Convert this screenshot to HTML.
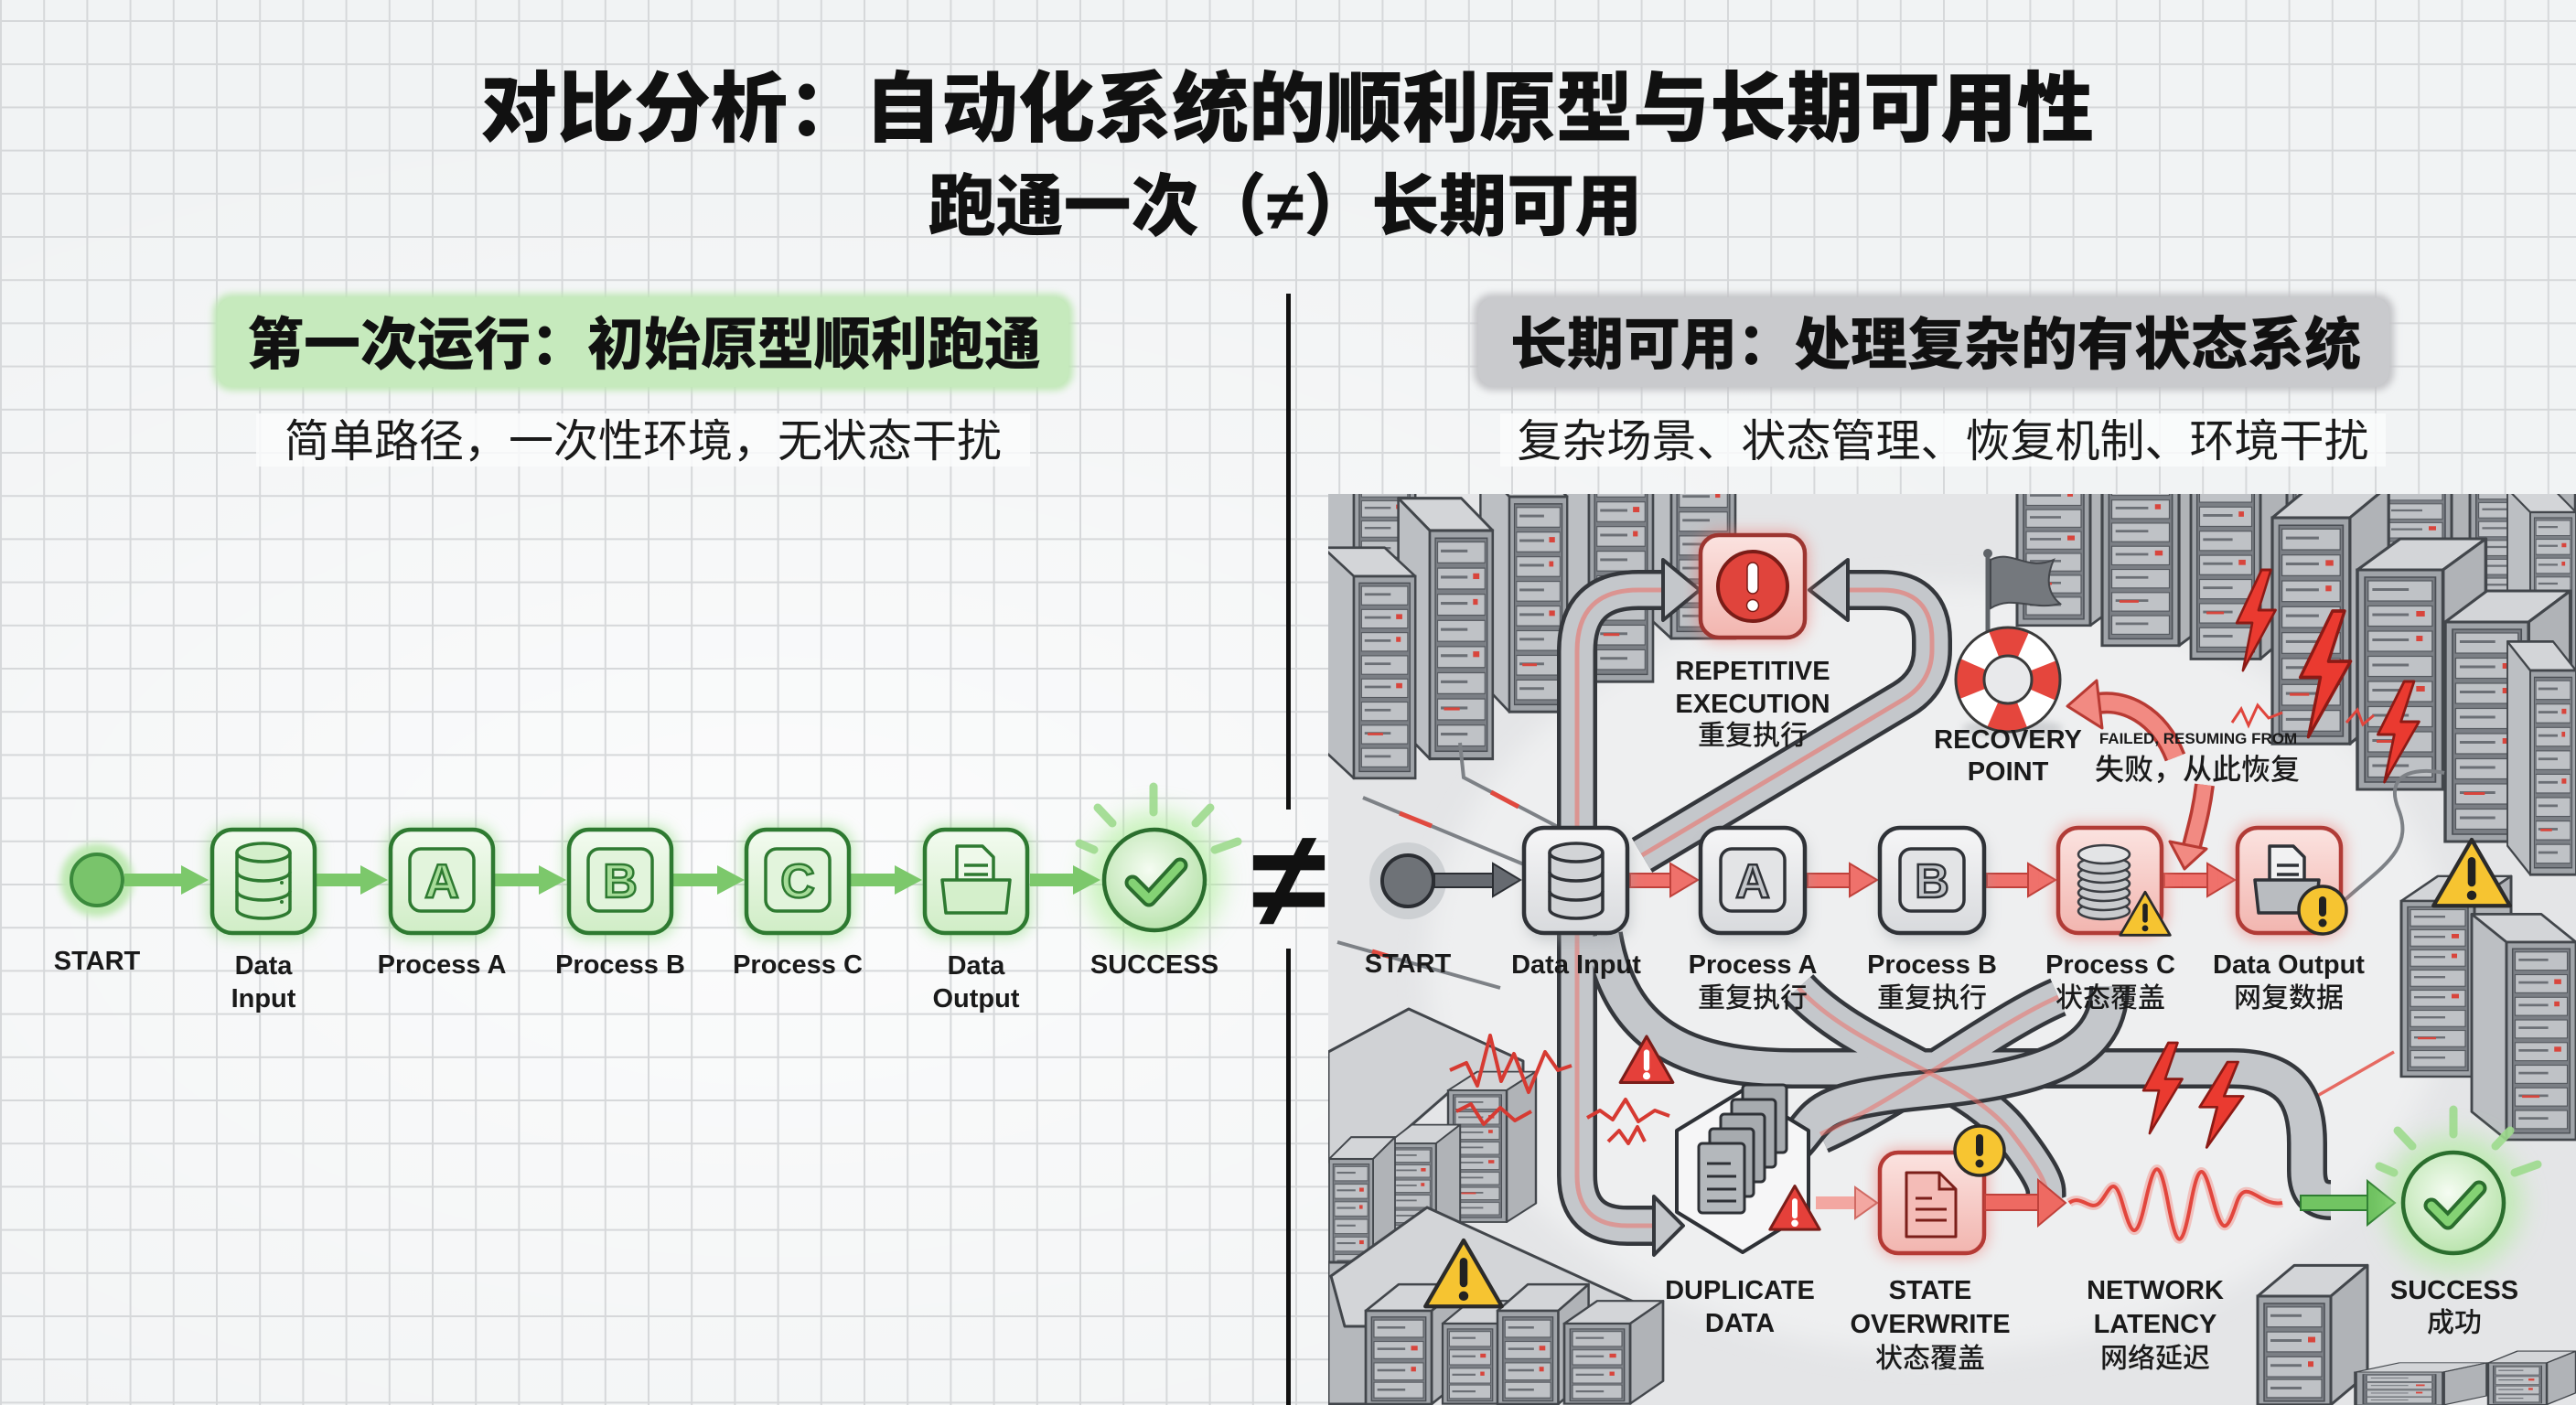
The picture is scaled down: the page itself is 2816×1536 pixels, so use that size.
<!DOCTYPE html>
<html><head><meta charset="utf-8"><title>对比分析：自动化系统的顺利原型与长期可用性</title>
<style>
html,body{margin:0;padding:0;width:2816px;height:1536px;overflow:hidden;background:#f2f4f5}
svg{display:block}
text{font-family:"Liberation Sans","Noto Sans CJK SC",sans-serif}
.cj{font-family:"Liberation Sans","Noto Sans CJK SC","WenQuanYi Zen Hei",sans-serif}
</style></head><body>
<svg width="2816" height="1536" viewBox="0 0 2816 1536" xmlns="http://www.w3.org/2000/svg">
<defs>
 <pattern id="grid" width="47.2" height="47.2" patternUnits="userSpaceOnUse" x="0" y="22">
  <path d="M0 1 H47.2 M1 0 V47.2" stroke="#d6d8da" stroke-width="2" fill="none"/>
 </pattern>
 <radialGradient id="bgGlow" cx="0.3" cy="0.62" r="0.55">
  <stop offset="0" stop-color="#ffffff" stop-opacity="0.75"/>
  <stop offset="1" stop-color="#ffffff" stop-opacity="0"/>
 </radialGradient>
 <filter id="b4" x="-50%" y="-50%" width="200%" height="200%"><feGaussianBlur stdDeviation="4"/></filter>
 <filter id="b8" x="-50%" y="-50%" width="200%" height="200%"><feGaussianBlur stdDeviation="8"/></filter>
 <filter id="b14" x="-50%" y="-50%" width="200%" height="200%"><feGaussianBlur stdDeviation="14"/></filter>
 <clipPath id="panel"><rect x="1452" y="540" width="1364" height="996"/></clipPath>
 <linearGradient id="gG" x1="0" y1="0" x2="0" y2="1"><stop offset="0" stop-color="#f3fbf0"/><stop offset="1" stop-color="#d0edc6"/></linearGradient>
 <linearGradient id="gW" x1="0" y1="0" x2="0" y2="1"><stop offset="0" stop-color="#f6f6f7"/><stop offset="1" stop-color="#d8dadd"/></linearGradient>
 <linearGradient id="gR" x1="0" y1="0" x2="0" y2="1"><stop offset="0" stop-color="#fbe3e0"/><stop offset="1" stop-color="#f2b5af"/></linearGradient>
 <radialGradient id="gS" cx="0.45" cy="0.4" r="0.65"><stop offset="0" stop-color="#f5fcf2"/><stop offset="1" stop-color="#b5e2a8"/></radialGradient>

 <g id="slots">
  <rect x="7" y="8" width="66" height="224" fill="#7b7f85" stroke="#4b4f55" stroke-width="1.5"/>
  <g fill="#bfc2c6" stroke="#55595f" stroke-width="1.2">
   <rect x="10" y="12" width="60" height="22"/><rect x="10" y="39.5" width="60" height="22"/>
   <rect x="10" y="67" width="60" height="22"/><rect x="10" y="94.5" width="60" height="22"/>
   <rect x="10" y="122" width="60" height="22"/><rect x="10" y="149.5" width="60" height="22"/>
   <rect x="10" y="177" width="60" height="22"/><rect x="10" y="204.5" width="60" height="22"/>
  </g>
  <g fill="#6b6f75">
   <rect x="14" y="20" width="34" height="3"/><rect x="14" y="47.5" width="34" height="3"/>
   <rect x="14" y="75" width="34" height="3"/><rect x="14" y="102.5" width="34" height="3"/>
   <rect x="14" y="130" width="34" height="3"/><rect x="14" y="157.5" width="34" height="3"/>
   <rect x="14" y="185" width="34" height="3"/><rect x="14" y="212.5" width="34" height="3"/>
  </g>
  <g fill="#d8453c">
   <rect x="55" y="45" width="8" height="6"/><rect x="55" y="127" width="8" height="6"/><rect x="18" y="186" width="20" height="3"/><rect x="55" y="72" width="6" height="6"/>
  </g>
 </g>
 <g id="slotsS">
  <rect x="7" y="8" width="66" height="108" fill="#7b7f85" stroke="#4b4f55" stroke-width="1.5"/>
  <g fill="#bfc2c6" stroke="#55595f" stroke-width="1.2">
   <rect x="10" y="12" width="60" height="22"/><rect x="10" y="39.5" width="60" height="22"/>
   <rect x="10" y="67" width="60" height="22"/><rect x="10" y="92" width="60" height="20"/>
  </g>
  <g fill="#6b6f75">
   <rect x="14" y="20" width="34" height="3"/><rect x="14" y="47.5" width="34" height="3"/>
   <rect x="14" y="75" width="34" height="3"/><rect x="14" y="100" width="34" height="3"/>
  </g>
  <g fill="#d8453c"><rect x="55" y="45" width="8" height="6"/><rect x="55" y="72" width="6" height="6"/></g>
 </g>
 <g id="rkR">
  <polygon points="0,0 40,-34 120,-34 80,0" fill="#d3d5d8" stroke="#42464b" stroke-width="3" stroke-linejoin="round"/>
  <polygon points="80,0 120,-34 120,206 80,240" fill="#b0b3b7" stroke="#42464b" stroke-width="3" stroke-linejoin="round"/>
  <rect width="80" height="240" fill="#a0a4a9" stroke="#42464b" stroke-width="3"/>
  <use href="#slots"/>
 </g>
 <g id="rkRs">
  <polygon points="0,0 40,-34 120,-34 80,0" fill="#d3d5d8" stroke="#42464b" stroke-width="3" stroke-linejoin="round"/>
  <polygon points="80,0 120,-34 120,86 80,120" fill="#b0b3b7" stroke="#42464b" stroke-width="3" stroke-linejoin="round"/>
  <rect width="80" height="120" fill="#a0a4a9" stroke="#42464b" stroke-width="3"/>
  <use href="#slotsS"/>
 </g>
 <g id="rkL">
  <polygon points="0,0 -40,-34 40,-34 80,0" fill="#d3d5d8" stroke="#42464b" stroke-width="3" stroke-linejoin="round"/>
  <polygon points="0,0 -40,-34 -40,206 0,240" fill="#bcbfc3" stroke="#42464b" stroke-width="3" stroke-linejoin="round"/>
  <rect width="80" height="240" fill="#a0a4a9" stroke="#42464b" stroke-width="3"/>
  <use href="#slots"/>
 </g>
 <polygon id="bolt" points="38,0 6,58 26,58 14,110 56,44 34,44 50,0" fill="#ea3a30" stroke="#8c1a15" stroke-width="3" stroke-linejoin="round"/>
 <g id="ytri">
  <polygon points="0,-40 44,36 -44,36" fill="#f6c431" stroke="#2b2b2b" stroke-width="4.5" stroke-linejoin="round"/>
  <rect x="-4.5" y="-20" width="9" height="34" rx="4.5" fill="#222"/>
  <circle cx="0" cy="24" r="5.5" fill="#222"/>
 </g>
 <g id="rtri">
  <polygon points="0,-30 32,26 -32,26" fill="#e5403a" stroke="#7a1d19" stroke-width="3.5" stroke-linejoin="round"/>
  <rect x="-3.5" y="-14" width="7" height="26" rx="3.5" fill="#fff"/>
  <circle cx="0" cy="18" r="4.5" fill="#fff"/>
 </g>
 <path id="rT1" d="M1724 905 L1724 712 Q1724 645 1791 645 L1825 645"/>
 <path id="rT2" d="M1795 935 L2080 765 Q2112 746 2112 710 L2112 700 Q2112 645 2057 645 L2018 645"/>
 <path id="rB1" d="M1724 1022 L1724 1285 Q1724 1340 1779 1340 L1812 1340"/>
 <path id="rB2" d="M1752 1022 C1770 1130 1840 1168 1960 1168 L2440 1168 C2500 1168 2522 1195 2522 1250 L2522 1280 Q2522 1312 2548 1312"/>
 <path id="rB3" d="M1966 1080 C2030 1150 2150 1175 2200 1240 S 2232 1300 2238 1316"/>
 <path id="rB4" d="M2306 1078 C2306 1160 2220 1180 2100 1192 S 1990 1220 1962 1250"/>
 <path id="rB5" d="M1990 1240 C2080 1200 2180 1120 2250 1090"/>
</defs>

<!-- background -->
<rect width="2816" height="1536" fill="#f1f3f4"/>
<rect width="2816" height="1536" fill="url(#bgGlow)"/>
<rect width="2816" height="1536" fill="url(#grid)"/>

<!-- titles -->
<text x="1407" y="148" font-size="84" font-weight="900" text-anchor="middle" fill="#111" class="cj">对比分析：自动化系统的顺利原型与长期可用性</text>
<text x="1405" y="251" font-size="74" font-weight="900" text-anchor="middle" fill="#111" class="cj">跑通一次（≠）长期可用</text>

<!-- pills -->
<rect x="233" y="321" width="940" height="106" rx="20" fill="#bfe7b5" filter="url(#b4)"/>
<rect x="238" y="325" width="930" height="98" rx="18" fill="#c6eabd"/>
<text x="704" y="398" font-size="62" font-weight="900" text-anchor="middle" fill="#111" class="cj">第一次运行：初始原型顺利跑通</text>
<rect x="1611" y="321" width="1006" height="106" rx="20" fill="#c2c3c6" filter="url(#b4)"/>
<rect x="1616" y="325" width="996" height="98" rx="18" fill="#c9cacd"/>
<text x="2116" y="398" font-size="62" font-weight="900" text-anchor="middle" fill="#111" class="cj">长期可用：处理复杂的有状态系统</text>

<!-- subtitles -->
<rect x="280" y="452" width="846" height="58" fill="#fafbfb" opacity="0.85"/>
<text x="703" y="499" font-size="49" text-anchor="middle" fill="#1a1a1a" class="cj">简单路径，一次性环境，无状态干扰</text>
<rect x="1640" y="452" width="968" height="58" fill="#fafbfb" opacity="0.85"/>
<text x="2124" y="499" font-size="49" text-anchor="middle" fill="#1a1a1a" class="cj">复杂场景、状态管理、恢复机制、环境干扰</text>

<!-- divider -->
<rect x="1406" y="321" width="5" height="564" fill="#111"/>
<rect x="1406" y="1037" width="5" height="499" fill="#111"/>
<text x="1409" y="1013" font-size="150" font-weight="bold" text-anchor="middle" fill="#111">≠</text>

<!-- ============ LEFT FLOW ============ -->
<g>
 <circle cx="106" cy="962" r="40" fill="#bfe9b3" filter="url(#b4)"/>
 <g fill="#86d874" opacity="0.55" filter="url(#b8)">
  <rect x="228" y="903" width="120" height="122" rx="24"/>
  <rect x="423" y="903" width="120" height="122" rx="24"/>
  <rect x="618" y="903" width="120" height="122" rx="24"/>
  <rect x="812" y="903" width="120" height="122" rx="24"/>
  <rect x="1007" y="903" width="120" height="122" rx="24"/>
 </g>
 <circle cx="1262" cy="962" r="74" fill="#a8ee92" opacity="0.6" filter="url(#b14)"/>
 <g fill="#7cc86b">
  <rect x="136" y="955" width="64" height="14"/><polygon points="198,946 228,962 198,978"/>
  <rect x="346" y="955" width="50" height="14"/><polygon points="394,946 424,962 394,978"/>
  <rect x="541" y="955" width="50" height="14"/><polygon points="589,946 619,962 589,978"/>
  <rect x="736" y="955" width="50" height="14"/><polygon points="784,946 814,962 784,978"/>
  <rect x="930" y="955" width="50" height="14"/><polygon points="978,946 1008,962 978,978"/>
  <rect x="1126" y="955" width="49" height="14"/><polygon points="1173,946 1203,962 1173,978"/>
 </g>
 <circle cx="106" cy="962" r="28" fill="#79c46b" stroke="#3b8a3c" stroke-width="4"/>
 <g fill="url(#gG)" stroke="#2e7a31" stroke-width="4.5">
  <rect x="232" y="907" width="112" height="113" rx="22"/>
  <rect x="427" y="907" width="112" height="113" rx="22"/>
  <rect x="622" y="907" width="112" height="113" rx="22"/>
  <rect x="816" y="907" width="112" height="113" rx="22"/>
  <rect x="1011" y="907" width="112" height="113" rx="22"/>
 </g>
 <g fill="#d4efcb" stroke="#2e7a31" stroke-width="3.5">
  <path d="M259 932 V994 A29 10 0 0 0 317 994 V932"/>
  <ellipse cx="288" cy="932" rx="29" ry="10"/>
  <path d="M259 953 A29 10 0 0 0 317 953 M259 974 A29 10 0 0 0 317 974" fill="none"/>
  <circle cx="308" cy="965" r="2" fill="#2e7a31" stroke="none"/>
  <circle cx="308" cy="986" r="2" fill="#2e7a31" stroke="none"/>
 </g>
 <g fill="#e2f4dc" stroke="#2e7a31" stroke-width="3.5">
  <rect x="448" y="928" width="70" height="68" rx="12"/>
  <rect x="643" y="928" width="70" height="68" rx="12"/>
  <rect x="837" y="928" width="70" height="68" rx="12"/>
 </g>
 <g font-size="52" font-weight="bold" text-anchor="middle" fill="#a6dc98" stroke="#2e7a31" stroke-width="2.5">
  <text x="483" y="981">A</text>
  <text x="678" y="981">B</text>
  <text x="872" y="981">C</text>
 </g>
 <g stroke="#2e7a31" stroke-width="3.5" stroke-linejoin="round">
  <path d="M1046 925 H1074 L1086 937 V975 H1046 Z" fill="#eef9ea"/>
  <path d="M1054 946 H1080 M1054 956 H1080" fill="none"/>
  <path d="M1030 962 H1104 L1100 998 H1034 Z" fill="#d4efcb"/>
 </g>
 <g stroke="#9edb8e" stroke-width="9" stroke-linecap="round" opacity="0.9">
  <path d="M1261 860 V888 M1200 883 L1216 900 M1323 883 L1307 900 M1180 922 L1196 929 M1353 920 L1328 929"/>
 </g>
 <circle cx="1262" cy="962" r="55" fill="url(#gS)" stroke="#2b6e2e" stroke-width="4.5"/>
 <path d="M1238 965 L1256 983 L1290 946" fill="none" stroke="#2b6e2e" stroke-width="17" stroke-linecap="round" stroke-linejoin="round"/>
 <path d="M1238 965 L1256 983 L1290 946" fill="none" stroke="#84d274" stroke-width="9" stroke-linecap="round" stroke-linejoin="round"/>
 <g font-size="29" font-weight="bold" text-anchor="middle" fill="#1a1a1a">
  <text x="106" y="1060">START</text>
  <text x="288" y="1065">Data</text><text x="288" y="1101">Input</text>
  <text x="483" y="1064">Process A</text>
  <text x="678" y="1064">Process B</text>
  <text x="872" y="1064">Process C</text>
  <text x="1067" y="1065">Data</text><text x="1067" y="1101">Output</text>
  <text x="1262" y="1064">SUCCESS</text>
 </g>
</g>

<!-- ============ RIGHT PANEL ============ -->
<g clip-path="url(#panel)">
 <rect x="1452" y="540" width="1364" height="996" fill="#e4e5e7"/>
 <ellipse cx="2120" cy="1060" rx="560" ry="420" fill="#eeeff0" filter="url(#b14)"/>

 <!-- top-left racks -->
 <use href="#rkL" transform="translate(1480,450) scale(.84,.8)"/>
 <use href="#rkL" transform="translate(1827,470) scale(.875,.95)"/>
 <use href="#rkL" transform="translate(1737,510) scale(.875,.98)"/>
 <use href="#rkL" transform="translate(1650,543) scale(.79,.98)"/>
 <use href="#rkL" transform="translate(1563,580) scale(.86,1.04)"/>
 <use href="#rkL" transform="translate(1480,630) scale(.84,.92)"/>

 <!-- top-right racks -->
 <use href="#rkR" transform="translate(2205,475) scale(1,.87)"/>
 <use href="#rkR" transform="translate(2298,485) scale(1.05,.92)"/>
 <use href="#rkR" transform="translate(2395,490) scale(.95,.96)"/>
 <use href="#rkR" transform="translate(2500,440) scale(1,.75)"/>
 <use href="#rkR" transform="translate(2600,480) scale(1,.75)"/>
 <use href="#rkR" transform="translate(2700,520) scale(.96,.75)"/>
 <use href="#rkL" transform="translate(2766,560) scale(.625,.75)"/>
 <use href="#rkR" transform="translate(2484,566) scale(1.06,1.03)"/>
 <use href="#rkR" transform="translate(2577,623) scale(1.17,1)"/>
 <use href="#rkR" transform="translate(2673,680) scale(1.14,1)"/>
 <use href="#rkL" transform="translate(2766,733) scale(.625,.93)"/>
 <!-- right column -->
 <use href="#rkR" transform="translate(2625,985) scale(1,.8)"/>
 <use href="#rkL" transform="translate(2740,1030) scale(.95,.9)"/>

 <!-- bottom-right racks -->
 <use href="#rkRs" transform="translate(2468,1417) scale(1,.99)"/>
 <use href="#rkRs" transform="translate(2575,1500) scale(1.2,.3)"/>
 <use href="#rkRs" transform="translate(2720,1490) scale(.8,.38)"/>

 <!-- bottom-left racks -->
 <polygon points="1452,1150 1540,1103 1665,1160 1665,1195 1583,1195 1520,1250 1452,1270" fill="#d0d2d5" stroke="#42464b" stroke-width="3" stroke-linejoin="round"/>
 <use href="#rkR" transform="translate(1583,1192) scale(.8,.6)"/>
 <use href="#rkR" transform="translate(1517,1250) scale(.66,.6)"/>
 <use href="#rkR" transform="translate(1453,1267) scale(.6,.7)"/>
 <rect x="1452" y="1380" width="42" height="155" fill="#b5b8bc" stroke="#42464b" stroke-width="3"/>
 <polygon points="1455,1395 1560,1320 1790,1425 1790,1450 1470,1450" fill="#d3d5d8" stroke="#42464b" stroke-width="3" stroke-linejoin="round"/>
 <use href="#rkRs" transform="translate(1493,1433) scale(.9,.85)"/>
 <use href="#rkRs" transform="translate(1577,1447) scale(.75,.73)"/>
 <use href="#rkRs" transform="translate(1637,1433) scale(.83,.85)"/>
 <use href="#rkRs" transform="translate(1710,1447) scale(.9,.73)"/>

 <!-- floor cables -->
 <g fill="none" stroke="#7d8186" stroke-width="4">
  <path d="M1490 872 L1690 955"/>
  <path d="M1596 812 L1600 850 L1705 905"/>
  <path d="M1462 1030 L1640 1080"/>
  <path d="M2562 985 C2600 950 2640 930 2622 885 S 2650 840 2672 845"/>
 </g>
 <g fill="none" stroke="#e0493f" stroke-width="5">
  <path d="M1530 889 L1565 903"/>
  <path d="M1630 866 L1660 882"/>
  <path d="M1500 1040 L1520 1046"/>
 </g>
 <path d="M2521 1205 L2617 1150" stroke="#e66a62" stroke-width="3.5" fill="none"/>

 <!-- ribbons -->
 <g fill="none" stroke-linejoin="round">
  <g stroke="#34373c" stroke-width="44">
   <use href="#rT1"/><use href="#rT2"/>
  </g>
  <g stroke="#c4c7cb" stroke-width="35">
   <use href="#rT1"/><use href="#rT2"/>
  </g>
  <g stroke="#ef6a62" stroke-opacity=".55" stroke-width="5">
   <use href="#rT1"/><use href="#rT2"/>
  </g>
  <g stroke="#34373c" stroke-width="44">
   <use href="#rB5"/><use href="#rB1"/><use href="#rB2"/><use href="#rB3"/>
  </g>
  <g stroke="#c4c7cb" stroke-width="35">
   <use href="#rB5"/><use href="#rB1"/><use href="#rB2"/><use href="#rB3"/>
  </g>
  <g stroke="#34373c" stroke-width="44"><use href="#rB4"/></g>
  <g stroke="#c4c7cb" stroke-width="35"><use href="#rB4"/></g>
  <g stroke="#ef6a62" stroke-opacity=".5" stroke-width="5">
   <use href="#rB1"/><use href="#rB3"/><use href="#rB5"/>
  </g>
 </g>
 <g fill="#c4c7cb" stroke="#34373c" stroke-width="4" stroke-linejoin="round">
  <polygon points="1818,612 1858,645 1818,678"/>
  <polygon points="2020,612 1978,645 2020,678"/>
  <polygon points="1808,1308 1840,1340 1808,1372"/>
 </g>

 <!-- START (right) -->
 <circle cx="1539" cy="963" r="42" fill="#cdd0d3"/>
 <circle cx="1539" cy="963" r="28" fill="#6e7277" stroke="#2b2e33" stroke-width="4"/>
 <g fill="#666a70" stroke="#2b2e33" stroke-width="2">
  <rect x="1568" y="955" width="66" height="15"/><polygon points="1632,944 1662,962 1632,980"/>
 </g>
 <g fill="#ef716b" stroke="#c0413b" stroke-width="2">
  <rect x="1782" y="955" width="46" height="15"/><polygon points="1826,944 1856,962 1826,980"/>
  <rect x="1976" y="955" width="48" height="15"/><polygon points="2022,944 2052,962 2022,980"/>
  <rect x="2172" y="955" width="47" height="15"/><polygon points="2217,944 2247,962 2217,980"/>
  <rect x="2366" y="955" width="49" height="15"/><polygon points="2413,944 2443,962 2413,980"/>
 </g>
 <g fill="#9a9ea3" opacity=".45" filter="url(#b8)">
  <rect x="1668" y="912" width="114" height="116" rx="22"/>
  <rect x="1861" y="912" width="114" height="116" rx="22"/>
  <rect x="2057" y="912" width="114" height="116" rx="22"/>
 </g>
 <g fill="#f07a72" opacity=".55" filter="url(#b8)">
  <rect x="2246" y="901" width="122" height="124" rx="24"/>
  <rect x="2442" y="901" width="122" height="124" rx="24"/>
  <rect x="1855" y="581" width="122" height="120" rx="24"/>
  <rect x="2051" y="1256" width="122" height="118" rx="24"/>
 </g>
 <g fill="url(#gW)" stroke="#2f3237" stroke-width="4.5">
  <rect x="1666" y="905" width="113" height="115" rx="22"/>
  <rect x="1859" y="905" width="114" height="115" rx="22"/>
  <rect x="2055" y="905" width="114" height="115" rx="22"/>
 </g>
 <g fill="url(#gR)" stroke="#b13b36" stroke-width="4.5">
  <rect x="2250" y="905" width="113" height="115" rx="22"/>
  <rect x="2446" y="905" width="113" height="115" rx="22"/>
 </g>
 <g fill="#d2d4d7" stroke="#2f3237" stroke-width="3.5">
  <path d="M1694 932 V994 A29 10 0 0 0 1752 994 V932"/>
  <ellipse cx="1723" cy="932" rx="29" ry="10"/>
  <path d="M1694 953 A29 10 0 0 0 1752 953 M1694 974 A29 10 0 0 0 1752 974" fill="none"/>
 </g>
 <g fill="#e3e4e6" stroke="#2f3237" stroke-width="3.5">
  <rect x="1881" y="928" width="70" height="68" rx="12"/>
  <rect x="2077" y="928" width="70" height="68" rx="12"/>
 </g>
 <g font-size="52" font-weight="bold" text-anchor="middle" fill="#c2c5c9" stroke="#2f3237" stroke-width="2.5">
  <text x="1916" y="981">A</text>
  <text x="2112" y="981">B</text>
 </g>
 <g fill="#c9cbce" stroke="#3a3d42" stroke-width="2.5">
  <ellipse cx="2300" cy="996" rx="28" ry="9"/>
  <ellipse cx="2300" cy="986" rx="28" ry="9"/>
  <ellipse cx="2300" cy="976" rx="28" ry="9"/>
  <ellipse cx="2300" cy="966" rx="28" ry="9"/>
  <ellipse cx="2300" cy="956" rx="28" ry="9"/>
  <ellipse cx="2300" cy="946" rx="28" ry="9"/>
  <ellipse cx="2300" cy="934" rx="28" ry="10" fill="#e3e4e6"/>
 </g>
 <use href="#ytri" transform="translate(2345,1000) scale(.62)"/>
 <g stroke="#2f3237" stroke-width="3.5" stroke-linejoin="round">
  <path d="M2481 925 H2507 L2519 937 V975 H2481 Z" fill="#f1f1f2"/>
  <path d="M2489 946 H2513 M2489 956 H2513" fill="none"/>
  <path d="M2465 962 H2535 L2531 998 H2469 Z" fill="#b9bcc0"/>
 </g>
 <circle cx="2539" cy="995" r="26" fill="#f6c431" stroke="#2b2b2b" stroke-width="3.5"/>
 <rect x="2535" y="980" width="8" height="22" rx="4" fill="#222"/><circle cx="2539" cy="1009" r="4.5" fill="#222"/>

 <!-- repetitive execution -->
 <rect x="1859" y="585" width="114" height="112" rx="20" fill="url(#gR)" stroke="#9d3530" stroke-width="4.5"/>
 <circle cx="1916" cy="641" r="38" fill="#e0443c" stroke="#7a1c17" stroke-width="4"/>
 <rect x="1910" y="615" width="12" height="34" rx="6" fill="#fff" stroke="#7a1c17" stroke-width="1.5"/>
 <circle cx="1916" cy="662" r="6.5" fill="#fff" stroke="#7a1c17" stroke-width="1.5"/>

 <!-- flag + lifebuoy -->
 <line x1="2173" y1="607" x2="2173" y2="740" stroke="#5f6368" stroke-width="5"/>
 <circle cx="2173" cy="605" r="5" fill="#5f6368"/>
 <path d="M2176 612 C2200 600 2215 625 2245 612 C2235 635 2240 650 2252 660 C2222 668 2200 650 2176 665 Z" fill="#74787d" stroke="#44474c" stroke-width="2"/>
 <ellipse cx="2200" cy="796" rx="55" ry="10" fill="#b9bcc0" opacity=".6" filter="url(#b4)"/>
 <circle cx="2195" cy="743" r="41.5" fill="none" stroke="#ffffff" stroke-width="31"/>
 <circle cx="2195" cy="743" r="41.5" fill="none" stroke="#e5463d" stroke-width="31" stroke-dasharray="33 32.2" stroke-dashoffset="16"/>
 <circle cx="2195" cy="743" r="57" fill="none" stroke="#3a3a3a" stroke-width="3"/>
 <circle cx="2195" cy="743" r="26" fill="#e8e9eb" stroke="#3a3a3a" stroke-width="3"/>

 <!-- red curved arrows -->
 <path d="M2378 828 C2360 782 2322 762 2288 770" fill="none" stroke="#b83a33" stroke-width="24"/>
 <path d="M2378 828 C2360 782 2322 762 2288 770" fill="none" stroke="#f28a82" stroke-width="17"/>
 <polygon points="2260,772 2292,744 2298,796" fill="#f28a82" stroke="#b83a33" stroke-width="3" stroke-linejoin="round"/>
 <path d="M2410 858 C2406 890 2400 908 2396 925" fill="none" stroke="#b83a33" stroke-width="22"/>
 <path d="M2410 858 C2406 890 2400 908 2396 925" fill="none" stroke="#f28a82" stroke-width="15"/>
 <polygon points="2388,950 2372,920 2412,928" fill="#f28a82" stroke="#b83a33" stroke-width="3" stroke-linejoin="round"/>

 <!-- lightning top -->
 <use href="#bolt" transform="translate(2440,623) scale(.85,1)"/>
 <use href="#bolt" transform="translate(2508,668) scale(1.1,1.25)"/>
 <use href="#bolt" transform="translate(2594,745) scale(.9,1)"/>
 <path d="M2440 790 l10 -15 l8 18 l10 -22 l12 14 l15 -6 M2565 790 l12 -14 l6 16 l12 -10" fill="none" stroke="#e0453c" stroke-width="3"/>
 <use href="#ytri" transform="translate(2702,956) scale(.95)"/>

 <!-- bottom: squiggles -->
 <g fill="none" stroke="#d63a32" stroke-width="4" stroke-linejoin="round">
  <path d="M1585 1170 l18 -8 l12 25 l14 -55 l12 50 l14 -30 l16 42 l18 -44 l14 20 l15 -5"/>
  <path d="M1592 1215 l16 -8 l14 22 l18 -18 l16 14 l18 -10"/>
  <path d="M1735 1222 l14 -8 l14 10 l14 -22 l14 24 l18 -12 l16 6"/>
  <path d="M1758 1248 l12 -12 l10 14 l10 -18 l8 16"/>
 </g>
 <use href="#rtri" transform="translate(1800,1160) scale(.9)"/>
 <use href="#ytri" transform="translate(1600,1394) scale(.95)"/>

 <!-- duplicate hexagon -->
 <polygon points="1905,1192 1977,1236 1977,1325 1905,1369 1833,1325 1833,1236" fill="#f6f6f7" stroke="#2e3136" stroke-width="4" stroke-linejoin="round"/>
 <g fill="#a7abaf" stroke="#2e3136" stroke-width="3">
  <rect x="1905" y="1186" width="48" height="74" rx="4"/>
  <rect x="1893" y="1202" width="48" height="74" rx="4"/>
  <rect x="1881" y="1218" width="48" height="74" rx="4"/>
  <rect x="1869" y="1234" width="48" height="74" rx="4"/>
  <rect x="1857" y="1250" width="50" height="76" rx="4" fill="#b4b8bc"/>
 </g>
 <path d="M1866 1272 H1892 M1866 1286 H1898 M1866 1300 H1898 M1866 1313 H1898" stroke="#2e3136" stroke-width="3"/>
 <use href="#rtri" transform="translate(1962,1322) scale(.85)"/>

 <rect x="1985" y="1308" width="45" height="14" fill="#f3a7a1"/>
 <polygon points="2028,1298 2052,1315 2028,1332" fill="#f3a7a1" stroke="#d06a63" stroke-width="2"/>
 <rect x="2055" y="1260" width="114" height="110" rx="20" fill="url(#gR)" stroke="#b53a35" stroke-width="4.5"/>
 <path d="M2084 1282 H2120 L2138 1300 V1352 H2084 Z" fill="#f4bcb7" stroke="#7b1f1a" stroke-width="3" stroke-linejoin="round"/>
 <path d="M2120 1282 V1300 H2138" fill="none" stroke="#7b1f1a" stroke-width="3"/>
 <path d="M2094 1310 H2112 M2094 1322 H2128 M2094 1334 H2128" stroke="#7b1f1a" stroke-width="3"/>
 <circle cx="2164" cy="1258" r="27" fill="#f7c531" stroke="#2b2b2b" stroke-width="3.5"/>
 <rect x="2160" y="1240" width="8" height="24" rx="4" fill="#222"/><circle cx="2164" cy="1272" r="4.5" fill="#222"/>
 <rect x="2170" y="1306" width="60" height="17" fill="#ee6a62" stroke="#c0413b" stroke-width="2"/>
 <polygon points="2228,1290 2258,1315 2228,1340" fill="#ee6a62" stroke="#c0413b" stroke-width="2"/>
 <path d="M2262 1315 C2275 1305 2285 1325 2295 1315 S 2310 1280 2320 1315 S 2335 1360 2345 1315 S 2360 1262 2370 1315 S 2385 1368 2395 1315 S 2410 1278 2420 1315 S 2435 1345 2445 1315 S 2470 1320 2495 1315" fill="none" stroke="#f2938c" stroke-width="10" opacity=".5"/>
 <path d="M2262 1315 C2275 1305 2285 1325 2295 1315 S 2310 1280 2320 1315 S 2335 1360 2345 1315 S 2360 1262 2370 1315 S 2385 1368 2395 1315 S 2410 1278 2420 1315 S 2435 1345 2445 1315 S 2470 1320 2495 1315" fill="none" stroke="#e2463d" stroke-width="4"/>
 <use href="#bolt" transform="translate(2338,1140) scale(.85,.9)"/>
 <use href="#bolt" transform="translate(2399,1161) scale(.95,.85)"/>

 <rect x="2515" y="1307" width="76" height="16" fill="#71c462" stroke="#2f7d32" stroke-width="2"/>
 <polygon points="2588,1291 2618,1315 2588,1339" fill="#6cbf5e" stroke="#2f7d32" stroke-width="2"/>
 <circle cx="2682" cy="1315" r="74" fill="#a8ee92" opacity="0.6" filter="url(#b14)"/>
 <g stroke="#9edb8e" stroke-width="9" stroke-linecap="round" opacity="0.9">
  <path d="M2682 1213 V1240 M2621 1236 L2637 1253 M2744 1236 L2728 1253 M2601 1275 L2617 1282 M2774 1273 L2749 1282"/>
 </g>
 <circle cx="2682" cy="1315" r="55" fill="url(#gS)" stroke="#2b6e2e" stroke-width="4.5"/>
 <path d="M2658 1318 L2676 1336 L2710 1299" fill="none" stroke="#2b6e2e" stroke-width="17" stroke-linecap="round" stroke-linejoin="round"/>
 <path d="M2658 1318 L2676 1336 L2710 1299" fill="none" stroke="#84d274" stroke-width="9" stroke-linecap="round" stroke-linejoin="round"/>

 <g font-size="29" font-weight="bold" text-anchor="middle" fill="#1a1a1a">
  <text x="1539" y="1063">START</text>
  <text x="1723" y="1064">Data Input</text>
  <text x="1916" y="1064">Process A</text>
  <text x="2112" y="1064">Process B</text>
  <text x="2307" y="1064">Process C</text>
  <text x="2502" y="1064">Data Output</text>
  <text x="1916" y="743">REPETITIVE</text>
  <text x="1916" y="779">EXECUTION</text>
  <text x="2195" y="818">RECOVERY</text>
  <text x="2195" y="853">POINT</text>
  <text x="1902" y="1420">DUPLICATE</text>
  <text x="1902" y="1456">DATA</text>
  <text x="2110" y="1420">STATE</text>
  <text x="2110" y="1457">OVERWRITE</text>
  <text x="2356" y="1420">NETWORK</text>
  <text x="2356" y="1457">LATENCY</text>
  <text x="2683" y="1420">SUCCESS</text>
 </g>
 <g font-size="30" text-anchor="middle" fill="#1a1a1a" class="cj" font-weight="500">
  <text x="1916" y="1101">重复执行</text>
  <text x="2112" y="1101">重复执行</text>
  <text x="2307" y="1101">状态覆盖</text>
  <text x="2502" y="1101">网复数据</text>
  <text x="1916" y="814">重复执行</text>
  <text x="2110" y="1495">状态覆盖</text>
  <text x="2356" y="1495">网络延迟</text>
  <text x="2683" y="1456">成功</text>
 </g>
 <text x="2403" y="813" font-size="17" font-weight="bold" text-anchor="middle" fill="#1a1a1a">FAILED, RESUMING FROM</text>
 <text x="2402" y="852" font-size="32" font-weight="500" text-anchor="middle" fill="#1a1a1a" class="cj">失败，从此恢复</text>
</g>
</svg>
</body></html>
